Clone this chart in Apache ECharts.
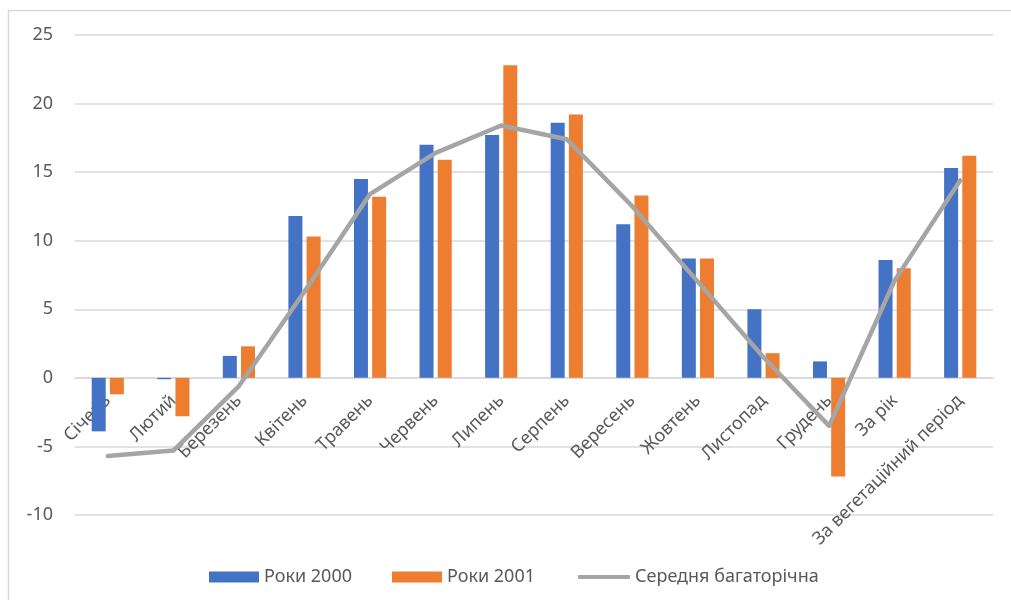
<!DOCTYPE html>
<html>
<head>
<meta charset="utf-8">
<script src="https://cdn.jsdelivr.net/npm/echarts@6/dist/echarts.min.js"></script>
<style>
  html, body { margin: 0; padding: 0; background: #fff; }
  #chart { width: 1011px; height: 600px; }
</style>
</head>
<body>
<div id="chart"></div>
<script>
// Місяці та підсумкові періоди
const categories = ['Січень', 'Лютий', 'Березень', 'Квітень', 'Травень', 'Червень', 'Липень',
  'Серпень', 'Вересень', 'Жовтень', 'Листопад', 'Грудень', 'За рік', 'За вегетаційний період'];

// Температура повітря, °C
const years2000 = [-3.9, -0.1, 1.6, 11.8, 14.5, 17.0, 17.7, 18.6, 11.2, 8.7, 5.0, 1.2, 8.6, 15.3];
const years2001 = [-1.2, -2.8, 2.3, 10.3, 13.2, 15.9, 22.8, 19.2, 13.3, 8.7, 1.8, -7.2, 8.0, 16.2];
const longTermMean = [-5.7, -5.3, -0.6, 6.3, 13.4, 16.4, 18.4, 17.4, 12.5, 7.0, 1.5, -3.5, 7.1, 14.4];

const seriesNames = ['Роки 2000', 'Роки 2001', 'Середня багаторічна'];

const font = 'Noto Sans, Liberation Sans, sans-serif';
const textColor = '#595959';

const legendText = { fontFamily: font, fontSize: 18, color: textColor };

const yMin = -10, yMax = 25;
const gridTop = 35, gridBottom = 85, chartHeight = 600;
// category labels sit next to the zero line, so shift the x axis up onto it
const plotHeight = chartHeight - gridTop - gridBottom;
const zeroOffset = -plotHeight * (0 - yMin) / (yMax - yMin);

const chart = echarts.init(document.getElementById('chart'), null, { renderer: 'canvas' });

chart.setOption({
  animation: false,
  backgroundColor: '#fff',
  graphic: [{
    type: 'rect',
    shape: { x: 8.5, y: 10.5, width: 1100, height: 700 },
    style: { fill: 'none', stroke: '#d9d9d9', lineWidth: 1.5 },
    silent: true
  }],
  grid: { left: 75, right: 18, top: gridTop, bottom: gridBottom, containLabel: false, outerBoundsMode: 'none' },
  legend: [
    {
      left: 209, top: 568, padding: 0, itemWidth: 50, itemHeight: 11,
      textStyle: legendText,
      data: [{ name: seriesNames[0], icon: 'rect' }]
    },
    {
      left: 392, top: 568, padding: 0, itemWidth: 50, itemHeight: 11,
      textStyle: legendText,
      data: [{ name: seriesNames[1], icon: 'rect' }]
    },
    {
      left: 578, top: 568, padding: 0, itemWidth: 52, itemHeight: 4,
      textStyle: legendText,
      lineStyle: { width: 5, cap: 'round' },
      data: [{ name: seriesNames[2], icon: 'roundRect' }]
    }
  ],
  xAxis: {
    type: 'category',
    data: categories,
    boundaryGap: true,
    offset: zeroOffset,
    axisLine: { onZero: false, lineStyle: { color: '#d9d9d9', width: 1.5 } },
    axisTick: { show: false },
    axisLabel: {
      rotate: 45,
      interval: 0,
      margin: 20,
      fontFamily: font,
      fontSize: 18,
      color: textColor
    }
  },
  yAxis: {
    type: 'value',
    min: yMin,
    max: yMax,
    interval: 5,
    axisLine: { show: false },
    axisTick: { show: false },
    splitLine: { lineStyle: { color: '#d9d9d9', width: 1.5 } },
    axisLabel: {
      margin: 22,
      fontFamily: font,
      fontSize: 18,
      color: textColor
    }
  },
  series: [
    {
      name: seriesNames[0],
      type: 'bar',
      data: years2000,
      barWidth: 14,
      barGap: '30%',
      itemStyle: { color: '#4472C4' }
    },
    {
      name: seriesNames[1],
      type: 'bar',
      data: years2001,
      barWidth: 14,
      itemStyle: { color: '#ED7D31' }
    },
    {
      name: seriesNames[2],
      type: 'line',
      data: longTermMean,
      symbol: 'none',
      smooth: false,
      lineStyle: { color: '#A5A5A5', width: 4.5, cap: 'round', join: 'round' },
      itemStyle: { color: '#A5A5A5' }
    }
  ]
});
</script>
</body>
</html>
